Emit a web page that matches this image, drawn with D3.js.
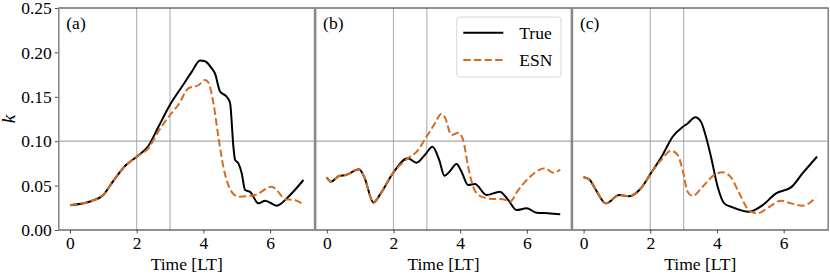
<!DOCTYPE html>
<html>
<head>
<meta charset="utf-8">
<script src="https://cdn.jsdelivr.net/npm/d3@7"></script>
<style>
  body { margin: 0; background: #fff; }
  svg text { font-family: "Liberation Serif", "DejaVu Serif", serif !important; fill: #000; }
</style>
</head>
<body>
<div id="chart"></div>
<script>

// panel labels
var panels = ['(a)', '(b)', '(c)'];

// axis ticks
var xTicks = [0, 2, 4, 6];
var yTicks = [0.00, 0.05, 0.10, 0.15, 0.20, 0.25];
var vLines = [2, 3];
var hLines = [0.10];

// panel (a)
var tTrueA = [0, 0.65, 1.0, 1.25, 1.65, 2.0, 2.35, 2.65, 3.0, 3.35, 3.65, 3.9, 4.05, 4.25, 4.35, 4.5, 4.7, 4.8, 4.9, 4.95, 5.05, 5.15, 5.25, 5.4, 5.65, 5.85, 6.2, 6.55, 7.0];
var kTrueA = [0.028, 0.0327, 0.0394, 0.0526, 0.072, 0.0826, 0.0946, 0.116, 0.141, 0.161, 0.178, 0.191, 0.190, 0.182, 0.176, 0.156, 0.150, 0.143, 0.094, 0.079, 0.075, 0.064, 0.045, 0.043, 0.030, 0.033, 0.0274, 0.0375, 0.0563];
var tEsnA = [0, 0.65, 1.0, 1.25, 1.65, 2.0, 2.35, 2.65, 3.0, 3.25, 3.55, 3.85, 4.05, 4.15, 4.3, 4.45, 4.6, 4.85, 5.05, 5.55, 6.05, 6.2, 6.45, 6.7, 6.95];
var kEsnA = [0.028, 0.0327, 0.0394, 0.0526, 0.072, 0.0826, 0.092, 0.111, 0.1295, 0.141, 0.1595, 0.163, 0.169, 0.166, 0.143, 0.105, 0.071, 0.043, 0.0375, 0.0394, 0.0488, 0.045, 0.0345, 0.034, 0.030];

// panel (b)
var tTrueB = [0, 0.12, 0.37, 0.57, 0.97, 1.12, 1.4, 1.62, 1.98, 2.43, 2.69, 2.94, 3.17, 3.37, 3.53, 3.68, 3.89, 4.04, 4.24, 4.44, 4.79, 5.19, 5.44, 5.69, 5.99, 6.29, 6.64, 7.0];
var kTrueB = [0.0593, 0.0544, 0.0608, 0.062, 0.0683, 0.060, 0.031, 0.0413, 0.0638, 0.0807, 0.0758, 0.0845, 0.0938, 0.079, 0.061, 0.0657, 0.0743, 0.0657, 0.0507, 0.0518, 0.0394, 0.0431, 0.0338, 0.0225, 0.0244, 0.0195, 0.0188, 0.0177];
var tEsnB = [0, 0.12, 0.37, 0.57, 0.97, 1.12, 1.4, 1.62, 1.98, 2.43, 2.69, 2.99, 3.24, 3.44, 3.54, 3.74, 3.94, 4.09, 4.24, 4.39, 4.59, 4.89, 5.29, 5.49, 5.74, 6.04, 6.54, 6.79, 7.0];
var kEsnB = [0.0593, 0.0544, 0.0608, 0.062, 0.0683, 0.060, 0.031, 0.0413, 0.0638, 0.0807, 0.088, 0.105, 0.120, 0.131, 0.127, 0.107, 0.1096, 0.101, 0.071, 0.0488, 0.0383, 0.0353, 0.0345, 0.0319, 0.045, 0.058, 0.0695, 0.0645, 0.068];

// panel (c)
var tTrueC = [0, 0.17, 0.37, 0.67, 1.07, 1.37, 1.72, 2.02, 2.37, 2.67, 2.97, 3.12, 3.35, 3.52, 3.67, 3.82, 4.02, 4.22, 4.47, 4.97, 5.37, 5.77, 6.22, 6.57, 7.0];
var kTrueC = [0.0593, 0.057, 0.045, 0.030, 0.0394, 0.038, 0.047, 0.064, 0.0845, 0.105, 0.116, 0.120, 0.127, 0.122, 0.105, 0.0826, 0.0488, 0.030, 0.0255, 0.0206, 0.028, 0.0413, 0.048, 0.064, 0.0826];
var tEsnC = [0, 0.17, 0.37, 0.67, 1.07, 1.37, 1.72, 2.02, 2.37, 2.62, 2.82, 2.97, 3.12, 3.27, 3.57, 3.92, 4.17, 4.42, 4.67, 4.97, 5.22, 5.57, 5.92, 6.22, 6.57, 6.97];
var kEsnC = [0.0593, 0.057, 0.045, 0.030, 0.0394, 0.038, 0.047, 0.064, 0.0807, 0.0893, 0.0845, 0.0676, 0.0431, 0.0383, 0.0488, 0.062, 0.065, 0.0593, 0.0413, 0.0217, 0.0188, 0.026, 0.033, 0.030, 0.0274, 0.0368];

var series = [
  {t: tTrueA, k: kTrueA, tEsn: tEsnA, kEsn: kEsnA},
  {t: tTrueB, k: kTrueB, tEsn: tEsnB, kEsn: kEsnB},
  {t: tTrueC, k: kTrueC, tEsn: tEsnC, kEsn: kEsnC}
];

var orange = "#d66c22";
var serif = "'Liberation Serif', 'DejaVu Serif', serif";
var fontSize = 17.5;

var totalW = 830, totalH = 277;
var plotLeft = 58.3, plotTop = 8, plotBottom = 230;
var panelW = 256.8;

var svg = d3.select("#chart")
  .append("svg")
    .attr("width", totalW)
    .attr("height", totalH);

var y = d3.scaleLinear()
  .domain([0, 0.25])
  .range([plotBottom, plotTop]);

function zip(ts, ks) {
  return ts.map(function(t, i) { return {t: t, k: ks[i]}; });
}

series.forEach(function(s, i) {
  var x0 = plotLeft + i * panelW;
  var x = d3.scaleLinear()
    .domain([-0.35, 7.35])
    .range([x0, x0 + panelW]);

  var g = svg.append("g");

  // reference lines
  vLines.forEach(function(v) {
    g.append("line")
      .attr("x1", x(v)).attr("x2", x(v))
      .attr("y1", plotTop).attr("y2", plotBottom)
      .attr("stroke", "#b5b5b5")
      .attr("stroke-width", 1.2);
  });
  hLines.forEach(function(h) {
    g.append("line")
      .attr("x1", x0).attr("x2", x0 + panelW)
      .attr("y1", y(h)).attr("y2", y(h))
      .attr("stroke", "#a8a8a8")
      .attr("stroke-width", 1.2);
  });

  var line = d3.line()
    .x(function(d) { return x(d.t); })
    .y(function(d) { return y(d.k); })
    .curve(d3.curveMonotoneX);

  g.append("path")
    .datum(zip(s.t, s.k))
    .attr("fill", "none")
    .attr("stroke", "#000")
    .attr("stroke-width", 2)
    .attr("d", line);

  g.append("path")
    .datum(zip(s.tEsn, s.kEsn))
    .attr("fill", "none")
    .attr("stroke", orange)
    .attr("stroke-width", 2)
    .attr("stroke-dasharray", "7.4,3.2")
    .attr("d", line);

  // x axis
  var xAxis = g.append("g")
    .attr("transform", "translate(0," + plotBottom + ")")
    .attr("font-family", serif)
    .call(d3.axisBottom(x).tickValues(xTicks).tickSize(3.5).tickPadding(3.5).tickFormat(d3.format("d")));
  xAxis.select(".domain").remove();
  xAxis.selectAll("line").attr("stroke", "#222").attr("stroke-width", 0.8);
  xAxis.selectAll("text").attr("font-size", fontSize).style("font-family", serif);

  if (i == 0) {
    var yAxis = g.append("g")
      .attr("transform", "translate(" + x0 + ",0)")
      .attr("font-family", serif)
      .call(d3.axisLeft(y).tickValues(yTicks).tickSize(3.5).tickPadding(3).tickFormat(d3.format(".2f")));
    yAxis.select(".domain").remove();
    yAxis.selectAll("line").attr("stroke", "#222").attr("stroke-width", 0.8);
    yAxis.selectAll("text").attr("font-size", fontSize).style("font-family", serif);
  }

  // frame: dark top/bottom, grey sides
  g.append("line").attr("x1", x0).attr("x2", x0 + panelW).attr("y1", plotTop).attr("y2", plotTop)
    .attr("stroke", "#222").attr("stroke-width", 1);
  g.append("line").attr("x1", x0).attr("x2", x0 + panelW).attr("y1", plotBottom).attr("y2", plotBottom)
    .attr("stroke", "#222").attr("stroke-width", 1);
  g.append("line").attr("x1", x0 + 0.5).attr("x2", x0 + 0.5).attr("y1", plotTop).attr("y2", plotBottom)
    .attr("stroke", "#888").attr("stroke-width", 1.6);
  g.append("line").attr("x1", x0 + panelW - 0.5).attr("x2", x0 + panelW - 0.5).attr("y1", plotTop).attr("y2", plotBottom)
    .attr("stroke", "#888").attr("stroke-width", 1.6);

  // panel label
  g.append("text")
    .attr("x", x0 + 8)
    .attr("y", 29)
    .attr("font-size", fontSize)
    .style("font-family", serif)
    .text(panels[i]);

  // x label
  g.append("text")
    .attr("x", x(3.5))
    .attr("y", 269.5)
    .attr("text-anchor", "middle")
    .attr("font-size", fontSize)
    .style("font-family", serif)
    .text("Time [LT]");
});

// y label
svg.append("text")
  .attr("transform", "translate(15," + ((plotTop + plotBottom) / 2) + ") rotate(-90)")
  .attr("text-anchor", "middle")
  .attr("font-size", 19)
  .attr("font-style", "italic")
  .style("font-family", serif)
  .text("k");

// legend in panel (b)
var legend = svg.append("g").attr("transform", "translate(456.7,17)");
legend.append("rect")
  .attr("width", 104.3).attr("height", 60)
  .attr("rx", 3)
  .attr("fill", "#fff")
  .attr("stroke", "#d8d8d8")
  .attr("stroke-width", 1);
legend.append("line").attr("x1", 6.6).attr("x2", 46.6).attr("y1", 15.7).attr("y2", 15.7)
  .attr("stroke", "#000").attr("stroke-width", 2);
legend.append("line").attr("x1", 6.6).attr("x2", 46.6).attr("y1", 43).attr("y2", 43)
  .attr("stroke", orange).attr("stroke-width", 2).attr("stroke-dasharray", "7.4,3.2");
legend.append("text").attr("x", 62.6).attr("y", 22).attr("font-size", fontSize).style("font-family", serif).text("True");
legend.append("text").attr("x", 62.6).attr("y", 49).attr("font-size", fontSize).style("font-family", serif).text("ESN");

</script>
</body>
</html>
